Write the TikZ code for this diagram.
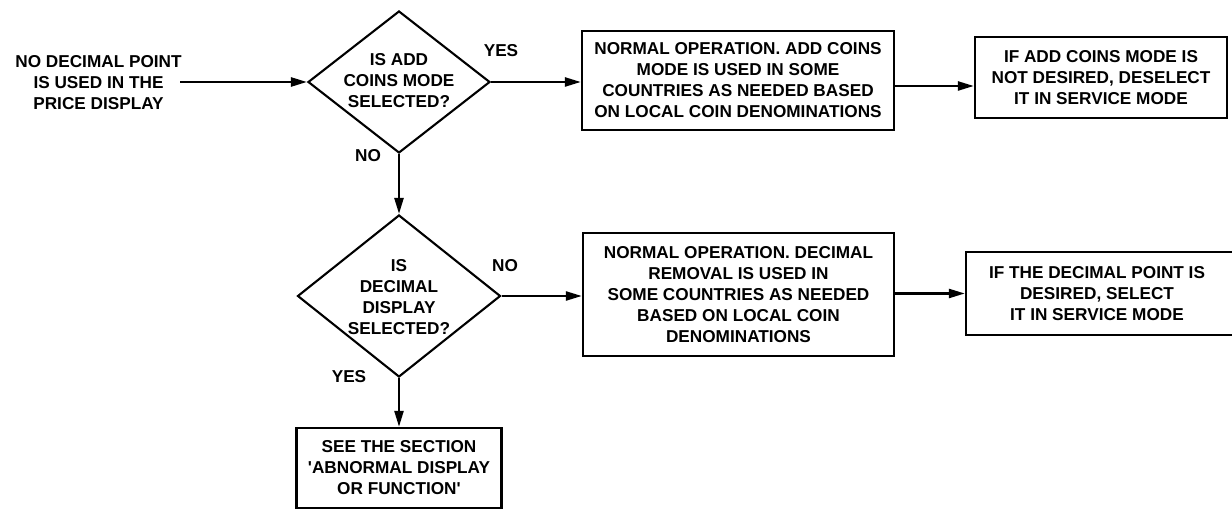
\documentclass[tikz,border=0pt]{standalone}
\usepackage{fontspec}
\setmainfont{Liberation Sans}
\usetikzlibrary{shapes.geometric,arrows.meta}
\begin{document}
\begin{tikzpicture}[x=1pt,y=-1pt,
  font=\bfseries\fontsize{17.2}{21}\selectfont,
  every node/.style={align=center},
  box/.style={draw,line width=2.3pt,inner sep=0pt},
  dia/.style={draw,diamond,line width=2.1pt,inner sep=0pt},
  lbl/.style={inner sep=0pt},
  conn/.style={line width=2.4pt,-{Triangle[length=16pt,width=9pt]}}]
\useasboundingbox (0,0) rectangle (1232,510);

% start text
\node[lbl] (start) at (98.5,83) {NO DECIMAL POINT\\IS USED IN THE\\PRICE DISPLAY};
\coordinate (startend) at (180,82);

% diamond 1
\node[dia,minimum width=182pt,minimum height=142pt] (d1) at (399,82) {};
\node[lbl] (d1t) at (399,81) {IS ADD\\COINS MODE\\SELECTED?};
\node[lbl] (yes1) at (501,51) {YES};
\node[lbl] (no1) at (368,156) {NO};

% box 1
\node[box,minimum width=312pt,minimum height=99pt] (b1) at (738,80.5)
  {NORMAL OPERATION. ADD COINS\\MODE IS USED IN SOME\\COUNTRIES AS NEEDED BASED\\ON LOCAL COIN DENOMINATIONS};
% box 2
\node[box,minimum width=252pt,minimum height=81pt] (b2) at (1101,77.5)
  {IF ADD COINS MODE IS\\NOT DESIRED, DESELECT\\IT IN SERVICE MODE};
\coordinate (row1b) at (0,86);

% diamond 2
\node[dia,minimum width=203pt,minimum height=162pt] (d2) at (399,296) {};
\node[lbl] (d2t) at (399,297) {IS\\DECIMAL\\DISPLAY\\SELECTED?};
\node[lbl] (no2) at (505,266) {NO};
\node[lbl] (yes2) at (349,377) {YES};

% box 3
\node[box,minimum width=311pt,minimum height=123pt] (b3) at (738.5,294.5)
  {NORMAL OPERATION. DECIMAL\\REMOVAL IS USED IN\\SOME COUNTRIES AS NEEDED\\BASED ON LOCAL COIN\\DENOMINATIONS};
% box 4
\node[box,minimum width=275pt,minimum height=83pt] (b4) at (1103.5,293.5)
  {\hspace*{-13pt}IF THE DECIMAL POINT IS\\\hspace*{-13pt}DESIRED, SELECT\\\hspace*{-13pt}IT IN SERVICE MODE};

% box 5
\node[box,minimum width=205pt,minimum height=80pt] (b5) at (399,468)
  {SEE THE SECTION\\\textquotesingle ABNORMAL DISPLAY\\OR FUNCTION\textquotesingle};

% connectors
\draw[conn] (startend) -- (d1.west);
\draw[conn] (d1.east) -- (b1.west |- d1.east);
\draw[conn] (b1.east |- row1b) -- (b2.west |- row1b);
\draw[conn] (d1.south) -- (d2.north);
\draw[conn] (d2.east) -- (b3.west |- d2.east);
\draw[conn] (b4.west -| b3.east) -- (b4.west);
\draw[conn] (d2.south) -- (b5.north);
\end{tikzpicture}
\end{document}
